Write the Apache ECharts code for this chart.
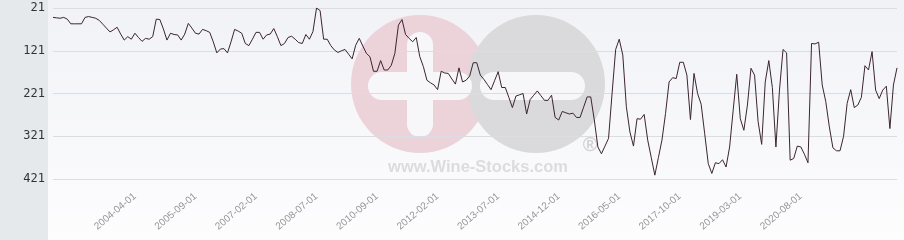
<!DOCTYPE html>
<html><head><meta charset="utf-8">
<script src="https://cdn.jsdelivr.net/npm/echarts@6/dist/echarts.min.js"></script>
<style>html,body{margin:0;padding:0;background:#fff}#c{width:904px;height:240px}</style>
</head><body><div id="c"></div>
<script>
// monthly categories (months 2009-01..2009-09 absent in source)
const periods = [['2002-05', '2008-12'], ['2009-10', '2022-11']];
const tickLabels = ['2004-04-01','2005-09-01','2007-02-01','2008-07-01','2010-09-01','2012-02-01',
  '2013-07-01','2014-12-01','2016-05-01','2017-10-01','2019-03-01','2020-08-01'];
const yTicks = [21, 121, 221, 321, 421];
const ranks = [
  43,44,45,43,47,58,58,58,58,43,
  41,43,45,50,59,68,77,72,66,82,
  96,88,94,80,90,99,92,94,88,47,
  48,70,96,80,83,84,96,82,57,68,
  80,82,71,74,78,100,126,117,116,126,
  100,71,75,80,104,109,94,78,78,94,
  84,82,69,88,109,104,90,87,94,102,
  104,83,94,76,21,27,94,94,109,119,
  125,121,118,129,140,108,92,110,127,135,
  169,169,144,166,166,155,127,61,48,83,
  92,100,90,135,158,190,196,201,212,169,
  173,174,187,199,161,194,190,180,149,149,
  178,188,200,212,191,170,207,207,230,254,
  227,224,221,269,235,225,215,226,237,237,
  225,277,283,263,266,269,267,277,277,253,
  229,229,283,346,362,344,326,220,118,94,
  131,252,311,344,280,281,270,330,371,412,
  371,330,268,194,184,186,148,148,178,282,
  174,221,246,315,385,408,383,385,376,393,
  346,260,176,280,307,248,162,178,287,340,
  194,144,207,346,213,118,126,377,373,344,
  346,363,383,104,105,101,201,240,299,348,
  355,355,321,244,212,254,248,230,156,166,
  123,213,233,213,204,303,201,161
];

function monthList(a, b) {
  let [y, m] = a.split('-').map(Number);
  const [ye, me] = b.split('-').map(Number);
  const out = [];
  while (y < ye || (y === ye && m <= me)) {
    out.push(y + '-' + String(m).padStart(2, '0') + '-01');
    m++; if (m > 12) { m = 1; y++; }
  }
  return out;
}
const categories = periods.flatMap(p => monthList(p[0], p[1]));
const labelSet = new Set(tickLabels);

const chart = echarts.init(document.getElementById('c'), null, {renderer: 'canvas'});
chart.setOption({
  animation: false,
  grid: {left: 53, right: 7, top: 8, bottom: 61, containLabel: false},
  xAxis: {
    type: 'category', data: categories, boundaryGap: false,
    axisLine: {show: false}, axisTick: {show: false}, splitLine: {show: false},
    axisLabel: {
      interval: (i, v) => labelSet.has(v),
      rotate: 40, margin: 16, fontSize: 10, color: '#959595', fontFamily: 'Liberation Sans'
    }
  },
  yAxis: {
    type: 'value', inverse: true, min: yTicks[0], max: yTicks[yTicks.length - 1], interval: 100,
    axisLine: {show: false}, axisTick: {show: false},
    axisLabel: {margin: 8, fontSize: 12, color: '#333', fontFamily: 'DejaVu Sans Mono'},
    splitLine: {lineStyle: {color: '#dcdde2', width: 1}}
  },
  graphic: [
    {type: 'rect', silent: true, z: -100, shape: {x: 0, y: 0, width: 48, height: 240}, style: {fill: '#e6e9ec'}},
    {type: 'rect', silent: true, z: -100, shape: {x: 48, y: 0, width: 856, height: 240},
      style: {fill: new echarts.graphic.LinearGradient(0, 0, 0, 1, [{offset: 0, color: '#f1f2f6'}, {offset: 1, color: '#fdfdfe'}])}},
    {type: 'circle', silent: true, z: -90, shape: {cx: 420, cy: 84, r: 69}, style: {fill: '#ecd2d9'}},
    {type: 'circle', silent: true, z: -89, shape: {cx: 536, cy: 84, r: 69}, style: {fill: '#dadadc'}},
    {type: 'rect', silent: true, z: -88, shape: {x: 407, y: 32, width: 26, height: 105, r: 13}, style: {fill: '#f7f7fa'}},
    {type: 'rect', silent: true, z: -88, shape: {x: 368, y: 72, width: 104, height: 28, r: 14}, style: {fill: '#f7f7fa'}},
    {type: 'rect', silent: true, z: -88, shape: {x: 480, y: 72, width: 105, height: 28, r: 14}, style: {fill: '#f7f7fa'}},
    {type: 'text', silent: true, z: -87, x: 478, y: 167,
      style: {text: 'www.Wine-Stocks.com', align: 'center', verticalAlign: 'middle',
        font: 'bold 16.5px "Liberation Sans"', fill: '#dcdcdc'}},
    {type: 'text', silent: true, z: -87, x: 590, y: 145,
      style: {text: '®', align: 'center', verticalAlign: 'middle',
        font: 'bold 20px "Liberation Sans"', fill: '#d2d2d4'}}
  ],
  series: [{
    type: 'line', data: ranks, showSymbol: false, symbol: 'none', smooth: false,
    lineStyle: {color: '#3b2430', width: 1}
  }]
});
</script></body></html>
